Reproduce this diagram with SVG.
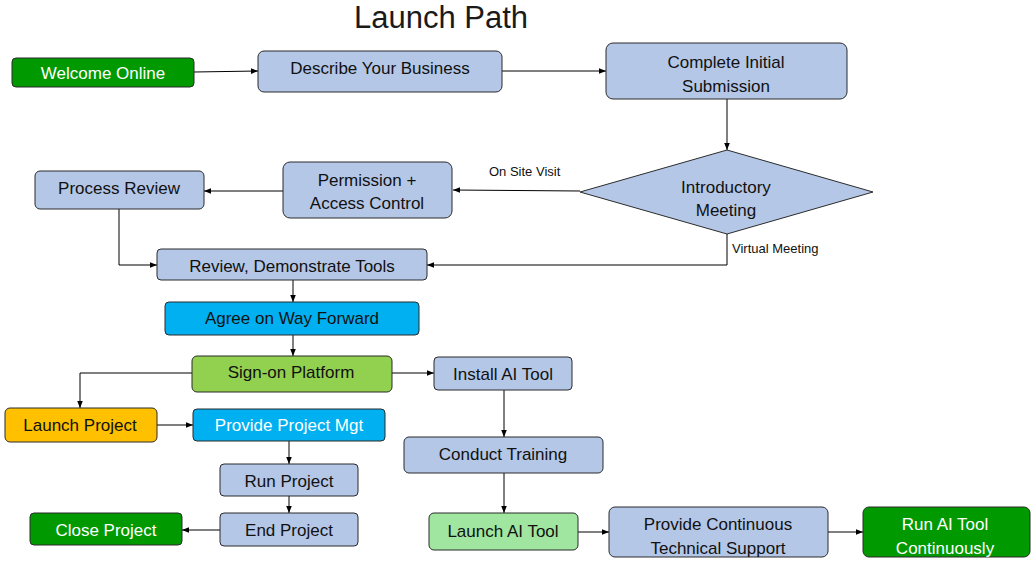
<svg xmlns="http://www.w3.org/2000/svg" width="1036" height="567" viewBox="0 0 1036 567">
<style>
.n{stroke:#2b2b2b;stroke-width:1}
.b{fill:#B4C7E7}
.g{fill:#009900}
.c{fill:#00B0F0}
.lg{fill:#92D050}
.o{fill:#FFC000}
.pg{fill:#A0E6A0}
text{font-family:"Liberation Sans",Arial,sans-serif;font-size:17px;text-anchor:middle;dominant-baseline:central;fill:#111}
.w{fill:#fff}
.s{font-size:13px;text-anchor:start}
.e{fill:none;stroke:#000;stroke-width:1}
</style>
<defs>
<marker id="a" viewBox="0 0 10 10" refX="10" refY="5" markerWidth="7" markerHeight="7" orient="auto" markerUnits="userSpaceOnUse">
<path d="M0,1 L10,5 L0,9 z" fill="#000"/>
</marker>
</defs>
<rect width="1036" height="567" fill="#fff"/>
<text x="441" y="17" style="font-size:31px;fill:#1a1a1a">Launch Path</text>

<g id="connectors">
<path class="e" d="M194,72 L258,71" marker-end="url(#a)"/>
<path class="e" d="M502,71 L606,71" marker-end="url(#a)"/>
<path class="e" d="M727,99 L727,150" marker-end="url(#a)"/>
<path class="e" d="M580,191 L453,190" marker-end="url(#a)"/>
<path class="e" d="M283,191 L204,191" marker-end="url(#a)"/>
<path class="e" d="M119,209 L119,265 L157,265" marker-end="url(#a)"/>
<path class="e" d="M727,234 L727,265 L427,265" marker-end="url(#a)"/>
<path class="e" d="M293,280 L293,302" marker-end="url(#a)"/>
<path class="e" d="M293,335 L293,356" marker-end="url(#a)"/>
<path class="e" d="M192,373 L80,373 L80,408" marker-end="url(#a)"/>
<path class="e" d="M392,373 L434,373" marker-end="url(#a)"/>
<path class="e" d="M157,425 L193,425" marker-end="url(#a)"/>
<path class="e" d="M289,441 L289,464" marker-end="url(#a)"/>
<path class="e" d="M289,496 L289,513" marker-end="url(#a)"/>
<path class="e" d="M220,530 L182,530" marker-end="url(#a)"/>
<path class="e" d="M504,390 L504,437" marker-end="url(#a)"/>
<path class="e" d="M504,473 L504,513" marker-end="url(#a)"/>
<path class="e" d="M578,532 L609,532" marker-end="url(#a)"/>
<path class="e" d="M828,532 L863,532" marker-end="url(#a)"/>
<text class="s" x="489" y="171">On Site Visit</text>
<text class="s" x="732" y="248">Virtual Meeting</text>
</g>

<g id="welcome"><rect class="n g" x="12" y="58" width="182" height="29" rx="4"/><text class="w" x="103" y="73">Welcome Online</text></g>
<g id="describe"><rect class="n b" x="258" y="51" width="244" height="41" rx="6"/><text x="380" y="68">Describe Your Business</text></g>
<g id="complete"><rect class="n b" x="606" y="43" width="241" height="56" rx="7"/><text x="726" y="62">Complete Initial</text><text x="726" y="86">Submission</text></g>
<g id="intro"><path class="n b" d="M727,150 L873,192 L727,234 L580,192 Z"/><text x="726" y="187">Introductory</text><text x="726" y="210">Meeting</text></g>
<g id="permission"><rect class="n b" x="283" y="162" width="169" height="56" rx="7"/><text x="367" y="180">Permission +</text><text x="367" y="203">Access Control</text></g>
<g id="process"><rect class="n b" x="35" y="171" width="169" height="38" rx="5"/><text x="119" y="188">Process Review</text></g>
<g id="reviewtools"><rect class="n b" x="157" y="249" width="270" height="31" rx="4"/><text x="292" y="266">Review, Demonstrate Tools</text></g>
<g id="agree"><rect class="n c" x="165" y="302" width="254" height="33" rx="4"/><text x="292" y="318">Agree on Way Forward</text></g>
<g id="signon"><rect class="n lg" x="192" y="356" width="200" height="36" rx="5"/><text x="291" y="372">Sign-on Platform</text></g>
<g id="launchproject"><rect class="n o" x="5" y="408" width="152" height="34" rx="5"/><text x="80" y="425">Launch Project</text></g>
<g id="ppm"><rect class="n c" x="193" y="409" width="192" height="32" rx="4"/><text class="w" x="289" y="425">Provide Project Mgt</text></g>
<g id="run"><rect class="n b" x="220" y="464" width="138" height="32" rx="4"/><text x="289" y="481">Run Project</text></g>
<g id="end"><rect class="n b" x="220" y="513" width="138" height="33" rx="4"/><text x="289" y="530">End Project</text></g>
<g id="close"><rect class="n g" x="30" y="513" width="152" height="32" rx="4"/><text class="w" x="106" y="530">Close Project</text></g>
<g id="install"><rect class="n b" x="434" y="357" width="138" height="33" rx="4"/><text x="503" y="374">Install AI Tool</text></g>
<g id="training"><rect class="n b" x="404" y="437" width="199" height="36" rx="5"/><text x="503" y="454">Conduct Training</text></g>
<g id="launchai"><rect class="n pg" x="429" y="513" width="149" height="37" rx="5"/><text x="503" y="531">Launch AI Tool</text></g>
<g id="support"><rect class="n b" x="609" y="507" width="219" height="50" rx="6"/><text x="718" y="524">Provide Continuous</text><text x="718" y="548">Technical Support</text></g>
<g id="runai"><rect class="n g" x="863" y="507" width="167" height="50" rx="6"/><text class="w" x="945" y="524">Run AI Tool</text><text class="w" x="945" y="548">Continuously</text></g>
</svg>
